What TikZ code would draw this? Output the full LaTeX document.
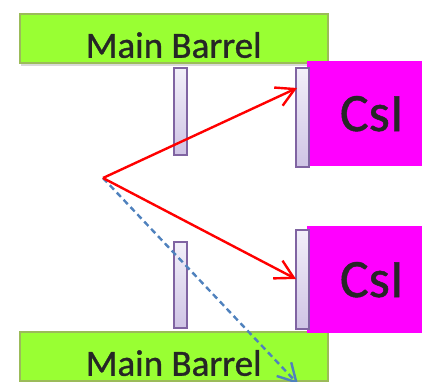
\documentclass[tikz,border=0pt]{standalone}
\usepackage{fontspec}
\setmainfont{Carlito}
\newfontfamily\labelfont{Carlito}[FakeBold=0.9]
\usetikzlibrary{arrows.meta,shadows}

\definecolor{barrelgreen}{HTML}{99FF33}
\definecolor{barreledge}{HTML}{9BBB59}
\definecolor{csimagenta}{HTML}{FF00FF}
\definecolor{stripedge}{HTML}{8064A2}
\definecolor{striptop}{HTML}{F2F0F9}
\definecolor{stripbottom}{HTML}{CFC4E5}
\definecolor{escblue}{HTML}{4F81BD}
\definecolor{labelgray}{HTML}{262626}

\begin{document}
\begin{tikzpicture}
  [x=1pt, y=-1pt,
  barrel/.style={rectangle, draw=barreledge, line width=1.5pt, fill=barrelgreen,
    anchor=north west, minimum width=308pt, minimum height=49pt, inner sep=0pt,
    font=\labelfont\fontsize{37}{37}\selectfont, text=labelgray, text height=39pt, text depth=0pt,
    drop shadow={opacity=0.3, shadow xshift=1pt, shadow yshift=-3pt}},
  crystal/.style={rectangle, fill=csimagenta, anchor=north west, minimum width=129pt,
    inner sep=0pt, font=\labelfont\fontsize{54}{54}\selectfont, text=labelgray},
  tracker/.style={rectangle, draw=stripedge, line width=1.5pt, top color=striptop,
    bottom color=stripbottom, anchor=north west, minimum width=13pt, inner sep=0pt},
  ray/.style={draw=red, line width=2.4pt,
    -{Straight Barb[length=18pt, width=20pt, line width=2.4pt]}},
  escape/.style={draw=escblue, dashed, dash pattern=on 6pt off 4pt, line width=2.4pt,
    -{Straight Barb[length=18pt, width=20pt, line width=2.4pt]}}]
  \useasboundingbox (0,0) rectangle (422,381);

  % nodes
  \node [barrel] (barreltop) at (19,13) {Main Barrel};
  \node [barrel] (barrelbot) at (19,331) {Main Barrel};
  \node [crystal, minimum height=105pt] (csitop) at (307,61) {CsI};
  \node [crystal, minimum height=107pt] (csibot) at (307,226) {CsI};
  \node [tracker, minimum height=87pt] (innertop) at (173,67) {};
  \node [tracker, minimum height=99pt] (outertop) at (295,67) {};
  \node [tracker, minimum height=86pt] (innerbot) at (173,241) {};
  \node [tracker, minimum height=99pt] (outerbot) at (295,229) {};

  \coordinate (src) at (103,178);
  \coordinate (hittop) at (297,88);
  \coordinate (hitbot) at (296,279);
  \coordinate (lost) at (298,384);

  % edges
  \draw [escape] (src) -- (lost);
  \draw [ray] (src) -- (hittop);
  \draw [ray] (src) -- (hitbot);

\end{tikzpicture}
\end{document}
